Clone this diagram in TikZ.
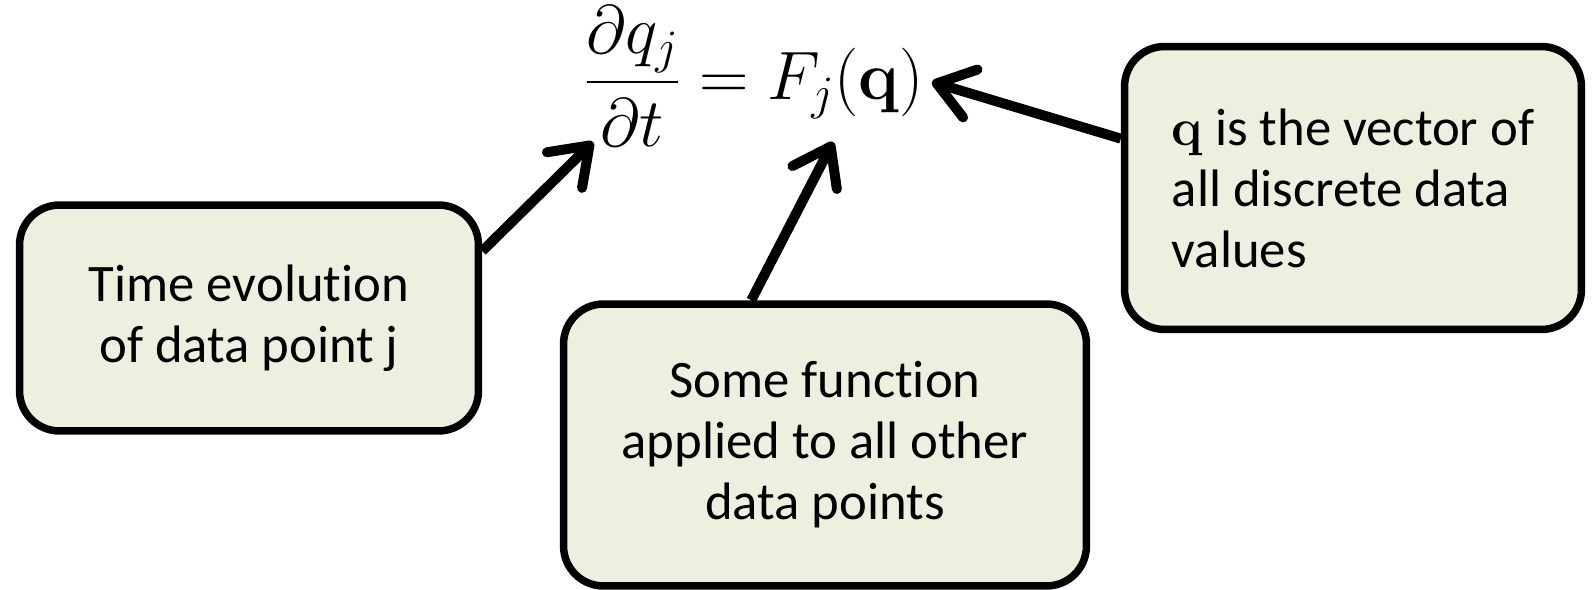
\RequirePackage{fix-cm}
\documentclass[tikz,border=0pt]{standalone}
\usepackage{amsmath}
\usepackage[no-math]{fontspec}
\setmainfont{Carlito}[Ligatures=NoCommon]
\usetikzlibrary{arrows.meta,positioning}
\definecolor{notefill}{HTML}{EBF1DE}

\begin{document}
\begin{tikzpicture}[x=0.02cm,y=-0.02cm,
 note/.style={draw,line width=0.15cm,rounded corners=0.8cm,fill=notefill,inner sep=0pt,
  font=\fontsize{30}{34.7}\selectfont},
 pointer/.style={line width=0.2cm,-{Straight Barb[length=0.7cm,width=1.0cm,round]}}]
\useasboundingbox (0,0) rectangle (1593,590);
% equation
\node (eq) at (754,76) {\fontsize{39}{47}\selectfont$\displaystyle\frac{\partial q_j}{\partial t}=F_j(\mathbf{q})$};
% notes
\node[note,minimum width=9.18cm,minimum height=4.52cm,align=center] (timebox) at (249,318)
 {Time evolution\\of data point j};
\node[note,minimum width=10.46cm,minimum height=5.64cm,align=center] (funcbox) at (825,445)
 {Some function\\applied to all other\\data points};
\node[note,minimum width=9.14cm,minimum height=5.66cm,align=left] (vecbox) at (1353,188)
 {$\mathbf{q}$ is the vector of\\all discrete data\\values};
% arrow tips
\coordinate (tipL) at (593,142);
\coordinate (tipM) at (833,142);
\coordinate (tipR) at (932,82);
\draw[pointer] (timebox.16) -- (tipL);
\draw[pointer] (funcbox.117) -- (tipM);
\draw[pointer] (vecbox.168) -- (tipR);
\end{tikzpicture}
\end{document}
